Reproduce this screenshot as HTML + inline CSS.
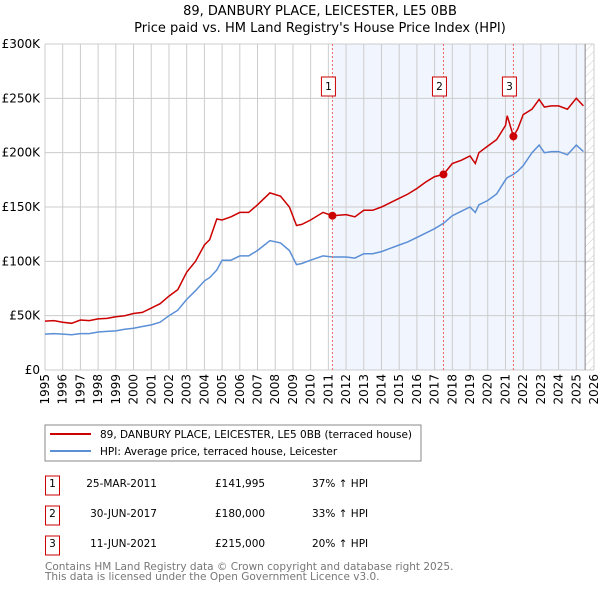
<!DOCTYPE html>
<html><head><meta charset="utf-8"><style>
body{margin:0;background:#fff;width:600px;height:590px;overflow:hidden;font-family:"DejaVu Sans","Liberation Sans",sans-serif}
svg text{font-family:"DejaVu Sans","Liberation Sans",sans-serif}
</style></head><body>
<svg id="chart" width="600" height="590">
<text x="320" y="15" font-size="13" text-anchor="middle">89, DANBURY PLACE, LEICESTER, LE5 0BB</text>
<text x="320" y="32" font-size="13" text-anchor="middle">Price paid vs. HM Land Registry's House Price Index (HPI)</text>
<defs><pattern id="hatch" width="6" height="6" patternUnits="userSpaceOnUse" patternTransform="rotate(45)"><line x1="0" y1="0" x2="0" y2="6" stroke="#ccc" stroke-width="1"/></pattern></defs>
<g id="bg"></g><g id="grid"></g><g id="series"></g><g id="marks"></g><g id="axes"></g>
<rect x="45" y="425" width="376" height="36" fill="none" stroke="#888"/>
<line x1="50" y1="434" x2="91" y2="434" stroke="#cc0000" stroke-width="2"/>
<text x="100" y="438" font-size="10.5">89, DANBURY PLACE, LEICESTER, LE5 0BB (terraced house)</text>
<line x1="50" y1="451" x2="91" y2="451" stroke="#5b8fd6" stroke-width="2"/>
<text x="100" y="455" font-size="10.5">HPI: Average price, terraced house, Leicester</text>
<g font-size="10.5">
<rect x="45.5" y="476" width="14" height="19" fill="none" stroke="#cc0000"/><text x="52.5" y="487" text-anchor="middle">1</text>
<text x="157" y="487" text-anchor="end">25-MAR-2011</text>
<text x="215" y="487">£141,995</text>
<text x="312" y="487">37% ↑ HPI</text>
<rect x="45.5" y="506" width="14" height="19" fill="none" stroke="#cc0000"/><text x="52.5" y="517" text-anchor="middle">2</text>
<text x="157" y="517" text-anchor="end">30-JUN-2017</text>
<text x="215" y="517">£180,000</text>
<text x="312" y="517">33% ↑ HPI</text>
<rect x="45.5" y="536" width="14" height="19" fill="none" stroke="#cc0000"/><text x="52.5" y="547" text-anchor="middle">3</text>
<text x="157" y="547" text-anchor="end">11-JUN-2021</text>
<text x="215" y="547">£215,000</text>
<text x="312" y="547">20% ↑ HPI</text>
</g>
<text x="45" y="570" font-size="10.5" fill="#777">Contains HM Land Registry data © Crown copyright and database right 2025.</text>
<text x="45" y="580" font-size="10.5" fill="#777">This data is licensed under the Open Government Licence v3.0.</text>
</svg>
<script>
const yearTicks=[1995,1996,1997,1998,1999,2000,2001,2002,2003,2004,2005,2006,2007,2008,2009,2010,2011,2012,2013,2014,2015,2016,2017,2018,2019,2020,2021,2022,2023,2024,2025,2026];
const valueTicks=[0,50,100,150,200,250,300];
const valueLabels=["£0","£50K","£100K","£150K","£200K","£250K","£300K"];
const seriesT=[1995,1995.5,1996,1996.5,1997,1997.5,1998,1998.5,1999,1999.5,2000,2000.5,2001,2001.5,2002,2002.5,2003,2003.5,2004,2004.3,2004.7,2005,2005.5,2006,2006.5,2007,2007.7,2008.3,2008.8,2009.2,2009.5,2010,2010.7,2011.23,2012,2012.5,2013,2013.5,2014,2014.5,2015,2015.5,2016,2016.5,2017,2017.5,2018,2018.5,2019,2019.3,2019.5,2020,2020.5,2021,2021.1,2021.45,2021.7,2022,2022.5,2022.9,2023.2,2023.6,2024,2024.5,2025,2025.4];
const hpiValues=[33,33.5,33,32.5,33.5,33.5,35,35.5,36,37.5,38.5,40,41.5,44,50,55,65,73,82,85,92,101,101,105,105,110,119,117,110,97,98,101,105,104,104,103,107,107,109,112,115,118,122,126,130,135,142,146,150,145,152,156,162,175,177,180,183,188,200,207,200,201,201,198,207,201];
const priceValues=[45,45.5,44,43,46,45.5,47,47.5,49,50,52,53,57,61,68,74,90,100,115,120,139,138,141,145,145,152,163,160,150,133,134,138,145,142,143,141,147,147,150,154,158,162,167,173,178,180,190,193,197,190,200,206,212,225,234,215,222,235,240,249,242,243,243,240,250,243];
const saleT=[2011.23,2017.5,2021.45];
const saleValues=[142,180,215];
const saleLabels=["1","2","3"];
const NS="http://www.w3.org/2000/svg";
const X0=45,X1=594,Y0=370,Y1=44;
const xs=t=>X0+(t-1995)/(2026-1995)*(X1-X0);
const ys=v=>Y0-v/300*(Y0-Y1);
function mk(tag,attrs,parent){const e=document.createElementNS(NS,tag);for(const k in attrs)e.setAttribute(k,attrs[k]);document.getElementById(parent).appendChild(e);return e;}
let r=mk('rect',{x:xs(saleT[0]),y:Y1,width:xs(2025.5)-xs(saleT[0]),height:Y0-Y1,fill:'#f1f5fe'},'bg');


r=mk('rect',{x:xs(2025.5),y:Y1,width:X1-xs(2025.5),height:Y0-Y1,fill:'url(#hatch)'},'bg');


yearTicks.forEach(t=>{const l=mk('line',{x1:xs(t),x2:xs(t),y1:Y1,y2:Y0,stroke:'#ccc'},'grid');


const tx=mk('text',{x:0,y:0,'font-size':12,'text-anchor':'end',transform:`translate(${xs(t)+4},${Y0+4}) rotate(-90)`},'axes');tx.textContent=t;

});
valueTicks.forEach((v,i)=>{const l=mk('line',{x1:X0,x2:X1,y1:ys(v),y2:ys(v),stroke:'#ccc'},'grid');


const tx=mk('text',{x:40,y:ys(v)+4,'font-size':12,'text-anchor':'end'},'axes');tx.textContent=valueLabels[i];

});
let ln=mk('line',{x1:xs(2025.5),x2:xs(2025.5),y1:Y1,y2:Y0,stroke:'#888'},'grid');


const pts=a=>seriesT.map((t,i)=>xs(t).toFixed(1)+','+ys(a[i]).toFixed(1)).join(' ');
let p=mk('polyline',{points:pts(hpiValues),fill:'none',stroke:'#5b8fd6','stroke-width':1.5},'series');


p=mk('polyline',{points:pts(priceValues),fill:'none',stroke:'#cc0000','stroke-width':1.5},'series');


saleT.forEach((t,i)=>{
const l=mk('line',{x1:xs(t),x2:xs(t),y1:Y1,y2:Y0,stroke:'#e66','stroke-dasharray':'2,2'},'marks');


const c=mk('circle',{cx:xs(t),cy:ys(saleValues[i]),r:4,fill:'#cc0000'},'marks');


const b=mk('rect',{x:xs(t)-11,y:77,width:14,height:19,fill:'#fff',stroke:'#cc0000'},'marks');


const tx=mk('text',{x:xs(t)-4,y:90,'font-size':10.5,'text-anchor':'middle'},'marks');tx.textContent=saleLabels[i];

});
</script>
</body></html>
